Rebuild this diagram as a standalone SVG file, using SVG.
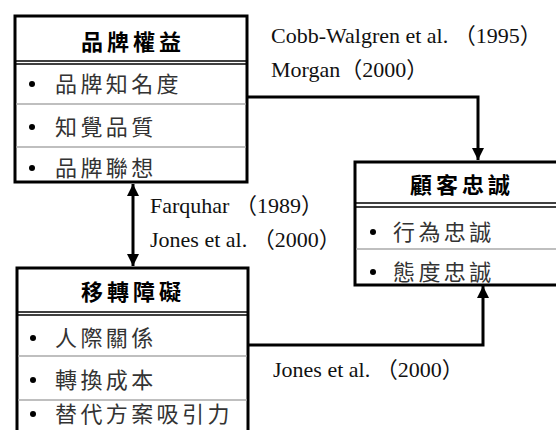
<svg xmlns="http://www.w3.org/2000/svg" width="556" height="430" viewBox="0 0 556 430">
<defs>
<style>
.box{fill:#fff;stroke:#000;stroke-width:3}
.dbl{stroke:#000;stroke-width:1.5;fill:none}
.sep{stroke:#aaa;stroke-width:1.5;fill:none}
.title{font-family:"Noto Sans CJK TC","Noto Sans CJK SC",sans-serif;font-size:22px;font-weight:bold;fill:#000;letter-spacing:4px;text-anchor:middle}
.item{font-family:"Noto Sans CJK TC","Noto Sans CJK SC",sans-serif;font-size:22px;fill:#333;letter-spacing:3.4px}
.ref{font-family:"Liberation Serif","Noto Sans CJK TC",serif;font-size:22px;fill:#111}
.bul{fill:#000}
.conn{stroke:#000;stroke-width:3;fill:none}
</style>
<marker id="ah" viewBox="0 0 10 10" refX="10" refY="5" markerWidth="12" markerHeight="12" markerUnits="userSpaceOnUse" orient="auto-start-reverse">
<path d="M0,0 L10,5 L0,10 z" fill="#000"/>
</marker>
</defs>

<g id="connectors">
<path class="conn" d="M248,97 H478 V160" marker-end="url(#ah)"/>
<path class="conn" d="M133,184 V266" marker-start="url(#ah)" marker-end="url(#ah)"/>
<path class="conn" d="M248,345 H483 V286" marker-end="url(#ah)"/>
</g>

<g id="brand-equity">
<rect class="box" x="15" y="16" width="232" height="166"/>
<line class="dbl" x1="15" y1="61" x2="247" y2="61"/>
<line class="dbl" x1="15" y1="64" x2="247" y2="64"/>
<line class="sep" x1="16" y1="104" x2="246" y2="104"/>
<line class="sep" x1="16" y1="147" x2="246" y2="147"/>
<text class="title" x="133" y="50">品牌權益</text>
<circle class="bul" cx="32" cy="84" r="3"/>
<text class="item" x="55" y="92">品牌知名度</text>
<circle class="bul" cx="32" cy="127" r="3"/>
<text class="item" x="55" y="135">知覺品質</text>
<circle class="bul" cx="32" cy="168" r="3"/>
<text class="item" x="55" y="176">品牌聯想</text>
</g>

<g id="customer-loyalty">
<rect class="box" x="355" y="162" width="210" height="123"/>
<line class="dbl" x1="355" y1="203" x2="560" y2="203"/>
<line class="dbl" x1="355" y1="207" x2="560" y2="207"/>
<line class="sep" x1="356" y1="249" x2="560" y2="249"/>
<text class="title" x="462" y="193">顧客忠誠</text>
<circle class="bul" cx="373" cy="232" r="3"/>
<text class="item" x="393" y="240">行為忠誠</text>
<circle class="bul" cx="373" cy="272" r="3"/>
<text class="item" x="393" y="280">態度忠誠</text>
</g>

<g id="switching-barriers">
<rect class="box" x="17" y="268" width="231" height="170"/>
<line class="dbl" x1="17" y1="312" x2="248" y2="312"/>
<line class="dbl" x1="17" y1="315" x2="248" y2="315"/>
<line class="sep" x1="18" y1="356" x2="247" y2="356"/>
<line class="sep" x1="18" y1="400" x2="247" y2="400"/>
<text class="title" x="133" y="300">移轉障礙</text>
<circle class="bul" cx="33" cy="338" r="3"/>
<text class="item" x="55" y="346">人際關係</text>
<circle class="bul" cx="33" cy="380" r="3"/>
<text class="item" x="55" y="388">轉換成本</text>
<circle class="bul" cx="33" cy="414" r="3"/>
<text class="item" x="55" y="422">替代方案吸引力</text>
</g>

<g id="labels">
<text class="ref" x="271" y="43">Cobb-Walgren et al. （1995）</text>
<text class="ref" x="271" y="77">Morgan（2000）</text>
<text class="ref" x="150" y="213">Farquhar （1989）</text>
<text class="ref" x="150" y="247">Jones et al. （2000）</text>
<text class="ref" x="273" y="377">Jones et al. （2000）</text>
</g>
</svg>
